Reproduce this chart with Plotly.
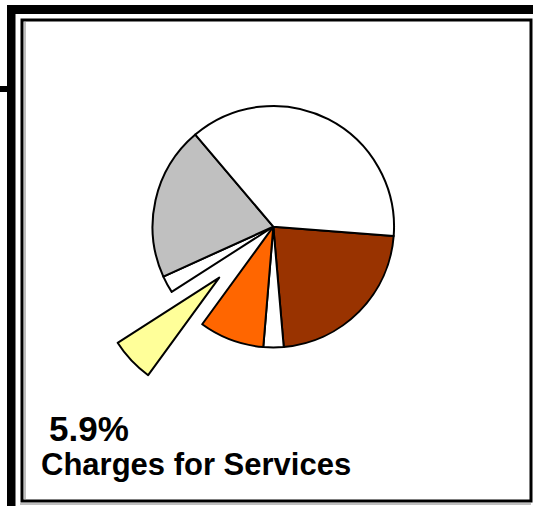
import plotly.graph_objects as go

# Data (clockwise starting from the brown slice)
labels = ["Segment A", "Segment B", "Segment C", "Charges for Services",
          "Segment E", "Segment F", "Segment G"]
values = [22.4, 2.7, 8.7, 5.9, 2.3, 20.6, 37.4]
colors = ["#993300", "#FFFFFF", "#FF6600", "#FFFF99", "#FFFFFF", "#C0C0C0", "#FFFFFF"]
pulls = [0, 0, 0, 0.615, 0, 0, 0]
highlight_pct = "5.9%"
highlight_label = "Charges for Services"

W, H = 533, 506


def px(x):
    return x / W


def py(y):
    return 1 - y / H


cx, cy, box = 273.3, 226.7, 390.0

fig = go.Figure(go.Pie(
    labels=labels,
    values=values,
    sort=False,
    direction="clockwise",
    rotation=94.4,
    pull=pulls,
    marker=dict(colors=colors, line=dict(color="black", width=2)),
    textinfo="none",
    hoverinfo="label+percent",
    domain=dict(x=[px(cx - box / 2), px(cx + box / 2)],
                y=[py(cy + box / 2), py(cy - box / 2)]),
))

shapes = []
# thick outer frame pieces
shapes.append(dict(type="rect", xref="paper", yref="paper",
                   x0=px(7), x1=px(533), y0=py(5), y1=py(14),
                   fillcolor="black", line=dict(width=0)))
shapes.append(dict(type="rect", xref="paper", yref="paper",
                   x0=px(7), x1=px(15.5), y0=py(5), y1=py(506),
                   fillcolor="black", line=dict(width=0)))
shapes.append(dict(type="rect", xref="paper", yref="paper",
                   x0=px(0), x1=px(8), y0=py(86), y1=py(92),
                   fillcolor="black", line=dict(width=0)))
# inner box
shapes.append(dict(type="rect", xref="paper", yref="paper",
                   x0=px(22), x1=px(531), y0=py(20), y1=py(501),
                   fillcolor="rgba(0,0,0,0)", line=dict(color="black", width=3)))
# thin gray accents
shapes.append(dict(type="line", xref="paper", yref="paper",
                   x0=px(25), x1=px(25), y0=py(22), y1=py(499),
                   line=dict(color="#808080", width=1)))
shapes.append(dict(type="line", xref="paper", yref="paper",
                   x0=px(20), x1=px(531), y0=py(504), y1=py(504),
                   line=dict(color="#808080", width=1)))

annotations = [
    dict(text="<b>" + highlight_pct + "</b>", xref="paper", yref="paper",
         x=px(46.5), y=py(428.5), xanchor="left", yanchor="middle", showarrow=False,
         font=dict(family="Liberation Sans, Arial", size=35, color="black")),
    dict(text="<b>" + highlight_label + "</b>", xref="paper", yref="paper",
         x=px(39), y=py(464), xanchor="left", yanchor="middle", showarrow=False,
         font=dict(family="Liberation Sans, Arial", size=31, color="black")),
]

fig.update_layout(
    width=W, height=H,
    margin=dict(l=0, r=0, t=0, b=0),
    paper_bgcolor="white",
    plot_bgcolor="white",
    showlegend=False,
    shapes=shapes,
    annotations=annotations,
)

fig.write_html("out.html")
